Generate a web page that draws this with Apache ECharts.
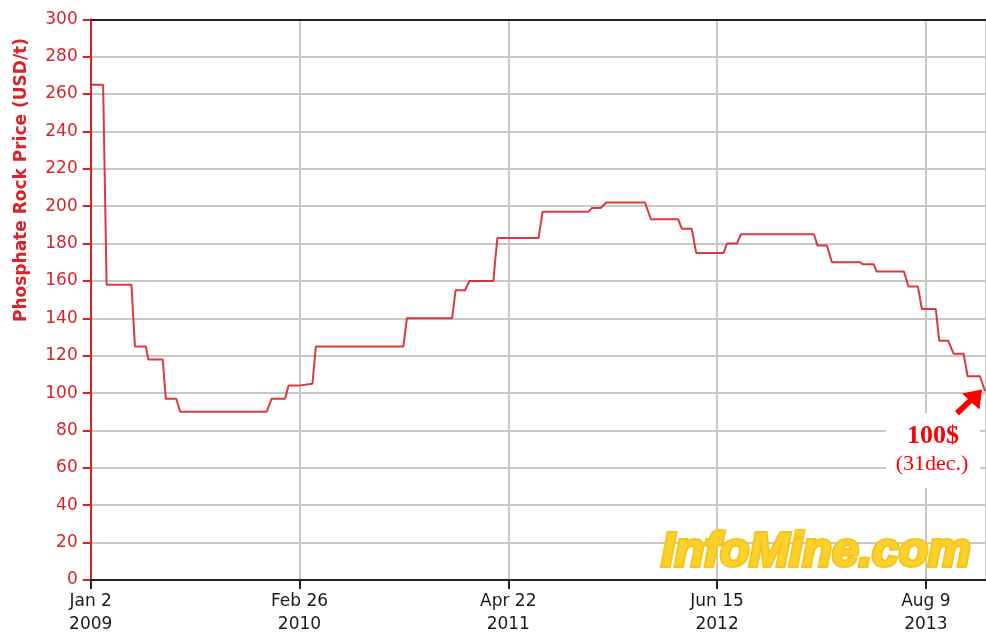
<!DOCTYPE html>
<html>
<head>
<meta charset="utf-8">
<script src="https://cdn.jsdelivr.net/npm/echarts@6/dist/echarts.min.js"></script>
<style>
html,body{margin:0;padding:0;background:#fff;}
#chart{width:986px;height:636px;}
</style>
</head>
<body>
<div id="chart"></div>
<script>
// Days counted from Jan 2 2009
const dayOffsets = [0,25,32,82,89,111,116,145,151,172,180,354,364,391,398,418,422,446,453,629,636,727,734,753,762,810,818,901,909,1001,1008,1026,1037,1115,1127,1182,1189,1209,1218,1273,1280,1300,1308,1455,1462,1481,1491,1548,1553,1575,1581,1636,1645,1664,1672,1700,1707,1725,1736,1756,1764,1789,1799];
const prices     = [265,265,158,158,125,125,118,118,97,97,90,90,97,97,104,104,105,105,125,125,140,140,155,155,160,160,183,183,197,197,199,199,202,202,193,193,188,188,175,175,180,180,185,185,179,179,170,170,169,169,165,165,157,157,145,145,128,128,121,121,109,109,101];
const xTickLabels = ['Jan 2\n2009','Feb 26\n2010','Apr 22\n2011','Jun 15\n2012','Aug 9\n2013'];
const xTickStep = 420;
const yMin = 0, yMax = 300, yStep = 20;
const yAxisTitle = 'Phosphate Rock Price (USD/t)';
const noteValue = '100$';
const noteDate = '(31dec.)';
const watermark = 'InfoMine.com';

const red = '#d8232a';
const chart = echarts.init(document.getElementById('chart'));
chart.setOption({
  animation: false,
  backgroundColor: '#fff',
  grid: {left: 90.7, top: 19.3, right: 0, bottom: 55, containLabel: false},
  xAxis: [{
    type: 'value', min: 0, max: 1801, interval: xTickStep,
    axisLine: {show: true, lineStyle: {color: '#222', width: 2}},
    axisTick: {show: true, length: 9, lineStyle: {color: '#222', width: 2}},
    axisLabel: {
      showMaxLabel: false,
      formatter: v => xTickLabels[Math.round(v / xTickStep)] || '',
      color: '#1a1a1a', fontFamily: 'DejaVu Sans', fontSize: 17, lineHeight: 23, margin: 10
    },
    splitLine: {show: true, lineStyle: {color: '#c8c8c8', width: 2}}
  }, {
    type: 'value', position: 'top', min: 0, max: 1801,
    axisLine: {show: true, lineStyle: {color: '#222', width: 2}},
    axisTick: {show: false}, axisLabel: {show: false}, splitLine: {show: false}
  }],
  yAxis: {
    type: 'value', min: yMin, max: yMax, interval: yStep,
    axisLine: {show: true, lineStyle: {color: red, width: 2}},
    axisTick: {show: true, length: 8, lineStyle: {color: red, width: 2}},
    axisLabel: {color: red, fontFamily: 'DejaVu Sans', fontSize: 17, margin: 13},
    splitLine: {show: true, lineStyle: {color: '#c8c8c8', width: 2}}
  },
  series: [{
    type: 'line', z: 5,
    data: dayOffsets.map((d, i) => [d, prices[i]]),
    showSymbol: false, symbol: 'none',
    lineStyle: {color: red, width: 2, opacity: 0.9},
    silent: true
  }],
  graphic: [
    {type: 'text', x: 22, y: 180, rotation: Math.PI / 2, z: 10,
     style: {text: yAxisTitle, fill: red, font: 'bold 17px "DejaVu Sans"', align: 'center', verticalAlign: 'middle'}},
    {type: 'rect', z: 3, shape: {x: 886, y: 413, width: 94, height: 75}, style: {fill: '#fff'}},
    {type: 'text', x: 933, y: 436, z: 10,
     style: {text: noteValue, fill: '#ff0000', font: 'bold 26px "Liberation Serif"', align: 'center', verticalAlign: 'middle'}},
    {type: 'text', x: 932, y: 464, z: 10,
     style: {text: noteDate, fill: '#ff0000', font: '22px "Liberation Serif"', align: 'center', verticalAlign: 'middle'}},
    {type: 'polygon', z: 10,
     shape: {points: [[955, 411], [959, 415.5], [972, 403], [979.5, 409.5], [982, 389.5], [962, 393.5], [968, 399]]},
     style: {fill: '#ff0000'}},
    {type: 'text', x: 816, y: 553, z: 4,
     style: {text: watermark, fill: '#fcd12e', font: 'italic bold 48px "Liberation Sans"', align: 'center', verticalAlign: 'middle',
             stroke: '#f5c518', lineWidth: 4, shadowColor: 'rgba(60,60,60,0.75)', shadowOffsetX: 3, shadowOffsetY: 3, shadowBlur: 2}}
  ]
});
</script>
</body>
</html>
